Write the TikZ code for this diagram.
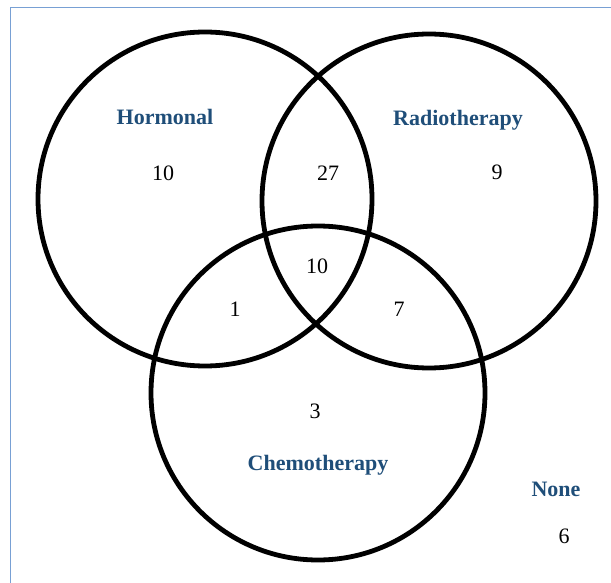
\documentclass[tikz,border=0pt]{standalone}
\usepackage{fontspec}
\setmainfont{Liberation Serif}
\definecolor{labelblue}{RGB}{31,78,121}
\definecolor{frameblue}{RGB}{120,160,212}
\begin{document}
\begin{tikzpicture}[x=1pt,y=-1pt,
  setcircle/.style={draw=black,line width=4.8pt},
  setlabel/.style={anchor=base,inner sep=0pt,text=labelblue,font=\fontsize{22}{26}\selectfont\bfseries},
  count/.style={anchor=base,inner sep=0pt,text=black,font=\fontsize{22}{26}\selectfont}]
\useasboundingbox (0,0) rectangle (611,583);
\fill[white] (0,0) rectangle (611,583);
\draw[frameblue,line width=1.8pt] (10.5,583) -- (10.5,7.5) -- (611,7.5);
% sets
\draw[setcircle] (205,199) circle[radius=167];
\draw[setcircle] (429,201) circle[radius=167];
\draw[setcircle] (318,393) circle[radius=167];
% labels
\node[setlabel] (hlab) at (165,125) {Hormonal};
\node[setlabel] (rlab) at (458,126) {Radiotherapy};
\node[setlabel] (clab) at (318,470) {Chemotherapy};
\node[setlabel] (nlab) at (556,496) {None};
% counts
\node[count] (h) at (163,180.5) {10};
\node[count] (hr) at (328,180.5) {27};
\node[count] (r) at (497,179.5) {9};
\node[count] (hrc) at (317,273.5) {10};
\node[count] (hc) at (235,316.5) {1};
\node[count] (rc) at (399,316.5) {7};
\node[count] (c) at (315,418.5) {3};
\node[count] (n) at (564,543.5) {6};
\end{tikzpicture}
\end{document}
